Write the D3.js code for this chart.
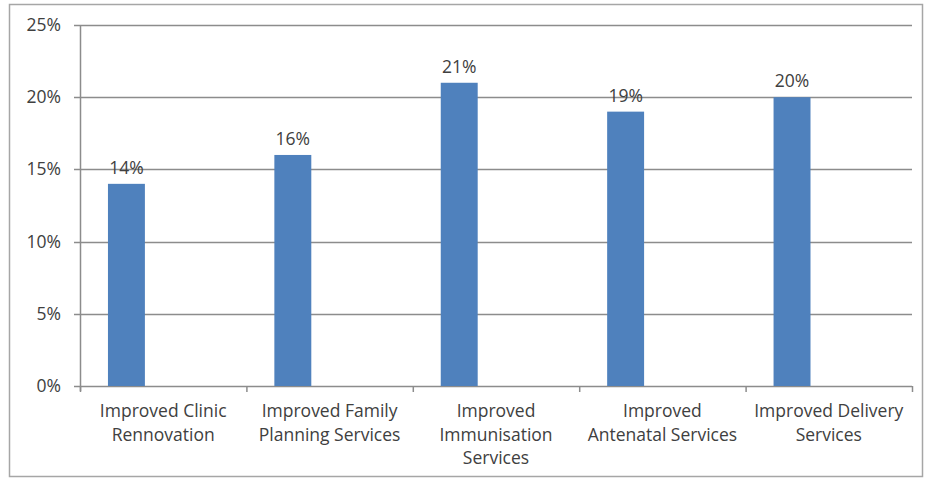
<!DOCTYPE html>
<html><head><meta charset="utf-8">
<script src="https://cdn.jsdelivr.net/npm/d3@7"></script>
<style>body{margin:0;background:#fff}svg{display:block}text{font-family:"Open Sans",sans-serif;fill:#404040}</style>
</head><body>
<svg id="c" width="925" height="479"></svg>
<script>
const categories = [
  ["Improved Clinic","Rennovation"],
  ["Improved Family","Planning Services"],
  ["Improved","Immunisation","Services"],
  ["Improved","Antenatal Services"],
  ["Improved Delivery","Services"]
];
const values = [14, 16, 21, 19, 20];
const yTicks = [0, 5, 10, 15, 20, 25];
const tickLabels = ["0%","5%","10%","15%","20%","25%"];

const svg = d3.select("#c");
const L = 80, R = 912, T = 25, B = 386;
const FS = 17.5;
svg.append("rect").attr("x",9.5).attr("y",4.5).attr("width",913).attr("height",472)
  .attr("fill","none").attr("stroke","#a6a6a6").attr("stroke-width",1.5);

const x = d3.scaleBand().domain(d3.range(categories.length)).range([L, R]).padding(0);
const y = d3.scaleLinear().domain([0, 25]).range([B, T]);

// gridlines
svg.append("g").selectAll("line").data(yTicks.filter(d=>d>0)).join("line")
  .attr("x1", L-6).attr("x2", R).attr("y1", d=>Math.round(y(d))+0.5).attr("y2", d=>Math.round(y(d))+0.5)
  .attr("stroke","#8c8c8c").attr("stroke-width",1.5);

// y axis
svg.append("line").attr("x1",L+0.5).attr("x2",L+0.5).attr("y1",T).attr("y2",B+5)
  .attr("stroke","#8c8c8c").attr("stroke-width",1.5);
svg.append("line").attr("x1",L-6).attr("x2",R).attr("y1",B+0.5).attr("y2",B+0.5)
  .attr("stroke","#8c8c8c").attr("stroke-width",1.5);
svg.append("g").selectAll("text").data(yTicks).join("text")
  .attr("x", L-19).attr("y", d=>y(d)+6).attr("text-anchor","end").attr("font-size",FS)
  .text((d,i)=>tickLabels[i]);
// x ticks
svg.append("g").selectAll("line").data(d3.range(categories.length+1)).join("line")
  .attr("x1", i=> (i<categories.length? x(i) : R)+0.5).attr("x2", i=> (i<categories.length? x(i) : R)+0.5)
  .attr("y1", B).attr("y2", B+6).attr("stroke","#8c8c8c").attr("stroke-width",1.5);

// bars (left slot of a two-series group)
const bw = x.bandwidth();
const barOff = bw*0.168, barW = bw*0.222;
svg.append("g").selectAll("rect").data(values).join("rect")
  .attr("x",(d,i)=>x(i)+barOff).attr("width",barW)
  .attr("y",d=>y(d)).attr("height",d=>B-y(d)).attr("fill","#4F81BD");

svg.append("g").selectAll("text").data(values).join("text")
  .attr("x",(d,i)=>x(i)+barOff+barW/2).attr("y",d=>y(d)-10)
  .attr("text-anchor","middle").attr("font-size",FS).text(d=>d+"%");

// category labels
const cg = svg.append("g");
categories.forEach((lines,i)=>{
  const t = cg.append("text").attr("x", x(i)+bw/2).attr("y", 417).attr("text-anchor","middle").attr("font-size",FS);
  lines.forEach((s,j)=>t.append("tspan").attr("x", x(i)+bw/2).attr("dy", j===0?0:23.5).text(s));
});
</script>
</body></html>
